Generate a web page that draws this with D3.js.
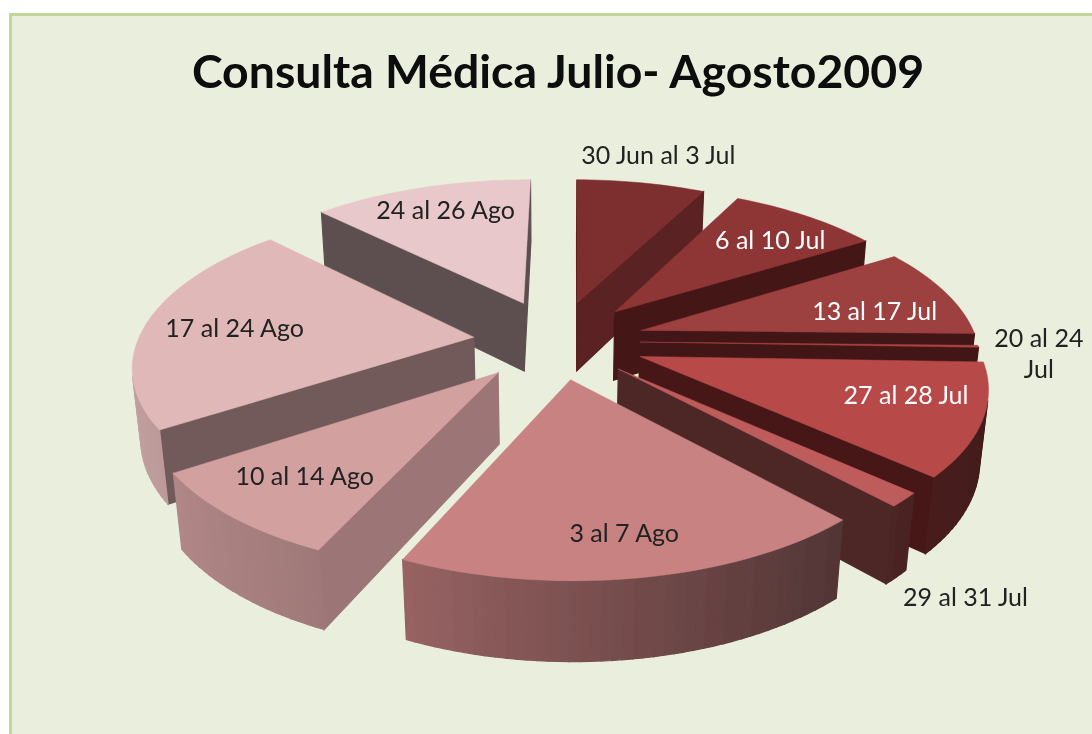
<!DOCTYPE html>
<html>
<head>
<meta charset="utf-8">
<script src="https://cdn.jsdelivr.net/npm/d3@7"></script>
<style>
  html, body { margin: 0; padding: 0; background: #fff; overflow: hidden; }
  text { font-family: Lato, "Open Sans", sans-serif; }
</style>
</head>
<body>
<div id="chart"></div>
<script>
// Data (share of consultations per week, %)
var categories = ["30 Jun al 3 Jul", "6 al 10 Jul", "13 al 17 Jul", "20 al 24\nJul", "27 al 28 Jul",
  "29 al 31 Jul", "3 al 7 Ago", "10 al 14 Ago", "17 al 24 Ago", "24 al 26 Ago"];
var values = [7.36, 8.6, 9.2, 0.2, 11.2, 1.39, 18.6, 8.9, 21.8, 12.6];

// How far each slice is pulled out of the pie
var explodes = [88, 88, 88, 83, 88, 84, 82, 88, 84, 92];

// Colours
var topColors = ["#7d2e2e", "#8e3434", "#9c3f3f", "#a94343", "#b84a48",
  "#bd5b5a", "#c88282", "#d3a0a0", "#e0b8b8", "#e8c8ca"];
var cutColors = ["#5a2020", "#451616", "#431616", "#431616", "#471818",
  "#4d2828", "#5a3a3e", "#9c7676", "#735a5a", "#5d4f4f"];
var labelColors = ["#222", "#fff", "#fff", "#222", "#fff", "#222", "#222", "#222", "#222", "#222"];

// Label placement: distance from the slice tip (in radii), turn away from mid angle (deg)
var labelRadius = [1.25, 0.75, 0.74, 1.18, 0.79, 1.39, 0.82, 0.75, 0.71, 0.75];
var labelTurn = [1.3, 3.9, 7, 2.8, -3.5, 10.6, -0.5, -1, -2.5, 1.5];

var w = 1092;
var h = 734;

// Pie geometry and camera
var cx = 557;
var cy = 341;
var radius = 336;
var thickness = 80;
var tilt = Math.asin(0.46);
var camera = 1850;
var rad = Math.PI / 180;

// Project a point of the pie (x right, y to the back, z up) to the screen
function project(x, y, z) {
  var up = y * Math.sin(tilt) + z * Math.cos(tilt);
  var depth = y * Math.cos(tilt) - z * Math.sin(tilt);
  var f = camera / (camera + depth);
  return [cx + x * f, cy - up * f];
}

var root = d3.select("#chart").append("svg").attr("width", w).attr("height", h);

// The reference is a soft, enlarged screenshot
root.append("filter")
  .attr("id", "soft")
  .attr("filterUnits", "userSpaceOnUse")
  .attr("x", 0).attr("y", 0)
  .attr("width", w).attr("height", h)
  .append("feGaussianBlur")
  .attr("stdDeviation", 0.7);

var svg = root.append("g").attr("filter", "url(#soft)");

svg.append("rect")
  .attr("width", w).attr("height", h)
  .attr("fill", "#fff");

// Panel
svg.append("rect")
  .attr("x", 10.5).attr("y", 14.5)
  .attr("width", w + 20).attr("height", h + 20)
  .attr("fill", "#e9eedd")
  .attr("stroke", "#c3d69b")
  .attr("stroke-width", 3);

// Title
svg.append("text")
  .attr("x", 558).attr("y", 88)
  .attr("text-anchor", "middle")
  .style("font-size", "46.4px")
  .style("font-weight", "700")
  .attr("fill", "#0a0a0a")
  .text("Consulta Médica Julio- Agosto2009");

var pie = d3.pie()
  .sort(null)
  .startAngle(0.5 * rad)
  .endAngle(360.5 * rad);

var arcs = pie(values);

var slices = arcs.map(function (d, i) {
  var mid = (d.startAngle + d.endAngle) / 2;
  return {
    i: i,
    start: d.startAngle,
    end: d.endAngle,
    mid: mid,
    ox: explodes[i] * Math.sin(mid),
    oy: explodes[i] * Math.cos(mid),
  };
});

var outline = d3.line().curve(d3.curveLinearClosed);
var shade = d3.scaleLinear().domain([-1, -0.4, 0.7, 1]).range([0.87, 0.75, 0.4, 0.36]);

function rimPoint(s, a, z) {
  return project(s.ox + radius * Math.sin(a), s.oy + radius * Math.cos(a), z);
}

// Wall between two top points; only drawn when it faces the camera
function wall(g, top1, top2, bottom2, bottom1, color) {
  var quad = [top1, top2, bottom2, bottom1];
  if (d3.polygonArea(quad) <= 0) return;
  g.append("path")
    .attr("d", outline(quad))
    .attr("fill", color)
    .attr("stroke", color)
    .attr("stroke-width", 1.2);
}

// Paint from back to front
var order = slices.slice().sort(function (a, b) {
  return d3.descending(Math.cos(a.mid), Math.cos(b.mid));
});

order.forEach(function (s) {
  var g = svg.append("g");
  var top = topColors[s.i];
  var cut = cutColors[s.i];
  var tipTop = project(s.ox, s.oy, 0);
  var tipBottom = project(s.ox, s.oy, -thickness);

  var steps = Math.max(2, Math.ceil((s.end - s.start) / (1.5 * rad)));
  var angles = d3.range(steps + 1).map(function (k) {
    return s.start + ((s.end - s.start) * k) / steps;
  });

  // cut faces
  var first = angles[0];
  var last = angles[steps];
  wall(g, tipTop, rimPoint(s, first, 0), rimPoint(s, first, -thickness), tipBottom, cut);
  wall(g, rimPoint(s, last, 0), tipTop, tipBottom, rimPoint(s, last, -thickness), cut);

  // rounded outer wall, shaded by direction
  d3.pairs(angles).forEach(function (p) {
    var nx = Math.sin((p[0] + p[1]) / 2);
    var color = d3.interpolateRgb("#000", top)(shade(nx));
    wall(g, rimPoint(s, p[0], 0), rimPoint(s, p[1], 0),
      rimPoint(s, p[1], -thickness), rimPoint(s, p[0], -thickness), color);
  });

  // top face
  var face = [tipTop].concat(angles.map(function (a) {
    return rimPoint(s, a, 0);
  }));
  g.append("path")
    .attr("d", outline(face))
    .attr("fill", top)
    .attr("stroke", top)
    .attr("stroke-width", 0.5);
});

// Labels
slices.forEach(function (s) {
  var a = s.mid + labelTurn[s.i] * rad;
  var r = radius * labelRadius[s.i];
  var p = project(s.ox + r * Math.sin(a), s.oy + r * Math.cos(a), 0);
  var lines = categories[s.i].split("\n");
  var text = svg.append("text")
    .attr("text-anchor", "middle")
    .style("font-size", "25px")
    .attr("fill", labelColors[s.i]);
  lines.forEach(function (line, k) {
    text.append("tspan")
      .attr("x", p[0] - 4)
      .attr("y", p[1] + 6 + (k - (lines.length - 1) / 2) * 31)
      .text(line);
  });
});
</script>
</body>
</html>
